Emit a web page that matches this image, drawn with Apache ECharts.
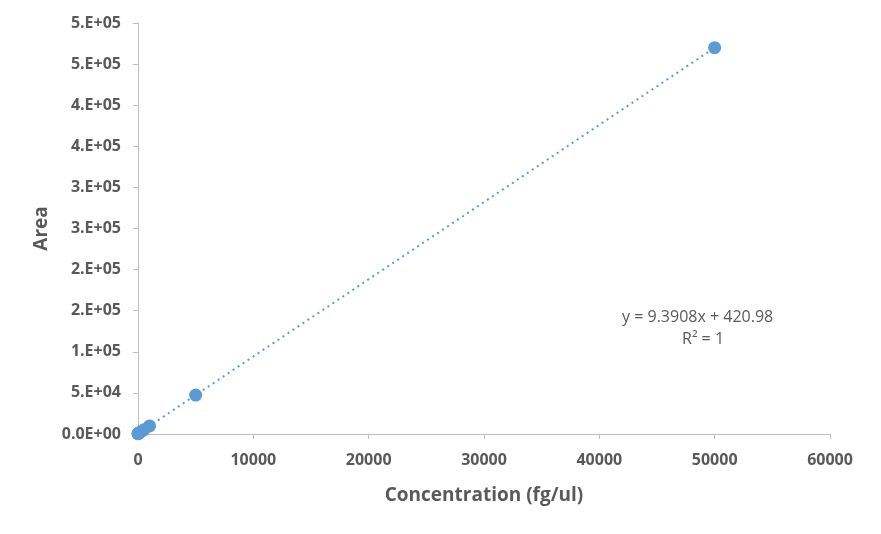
<!DOCTYPE html>
<html><head><meta charset="utf-8">
<script src="https://cdn.jsdelivr.net/npm/echarts@6/dist/echarts.min.js"></script>
<style>html,body{margin:0;padding:0;background:#fff}#c{width:881px;height:534px}</style>
</head><body><div id="c"></div>
<script>
const concentration = [1, 10, 50, 100, 250, 500, 1000, 5000, 50000];
const area = [430, 515, 890, 1360, 2770, 5120, 9810, 47400, 470000];
const trendX = [0, 50000];
const trendY = [421, 469961];
const xTickLabels = ['0','10000','20000','30000','40000','50000','60000'];
const yTickLabels = ['0.0E+00','5.E+04','1.E+05','2.E+05','2.E+05','3.E+05','3.E+05','4.E+05','4.E+05','5.E+05','5.E+05'];
const equationLines = ['y = 9.3908x + 420.98', 'R² = 1'];

const font = 'Open Sans, Liberation Sans, sans-serif';
const chart = echarts.init(document.getElementById('c'));
chart.setOption({
  animation: false,
  grid: {left: 138, right: 51, top: 23, bottom: 100, containLabel: false},
  xAxis: {
    type: 'value', min: 0, max: 60000, interval: 10000,
    name: 'Concentration (fg/ul)', nameLocation: 'middle', nameGap: 52,
    nameTextStyle: {fontFamily: font, fontWeight: 'bold', fontSize: 19, color: '#595959'},
    axisLine: {show: true, lineStyle: {color: '#bfbfbf', width: 1}},
    axisTick: {show: true, length: 5, lineStyle: {color: '#bfbfbf'}},
    axisLabel: {fontFamily: font, fontWeight: 'bold', fontSize: 16, color: '#595959', margin: 18,
      formatter: v => xTickLabels[Math.round(v / 10000)]},
    splitLine: {show: false}
  },
  yAxis: {
    type: 'value', min: 0, max: 500000, interval: 50000,
    name: 'Area', nameLocation: 'middle', nameGap: 86, nameRotate: 90,
    nameTextStyle: {fontFamily: font, fontWeight: 'bold', fontSize: 19, color: '#595959'},
    axisLine: {show: true, lineStyle: {color: '#bfbfbf', width: 1}},
    axisTick: {show: true, length: 5, lineStyle: {color: '#bfbfbf'}},
    axisLabel: {fontFamily: font, fontWeight: 'bold', fontSize: 16, color: '#595959', margin: 17,
      formatter: v => yTickLabels[Math.round(v / 50000)]},
    splitLine: {show: false}
  },
  series: [
    {type: 'line', data: trendX.map((x, i) => [x, trendY[i]]), symbol: 'none',
     lineStyle: {color: '#5b9bd5', width: 2, type: [2, 4]}, z: 1},
    {type: 'scatter', data: concentration.map((x, i) => [x, area[i]]), symbol: 'circle', symbolSize: 13,
     itemStyle: {color: '#5b9bd5', opacity: 1}, z: 2}
  ],
  graphic: [
    {type: 'text', left: 622, top: 309, style: {text: equationLines[0], fontFamily: font, fontSize: 16, fill: '#595959'}},
    {type: 'text', left: 682, top: 331, style: {text: equationLines[1], fontFamily: font, fontSize: 16, fill: '#595959'}}
  ]
});
</script></body></html>
